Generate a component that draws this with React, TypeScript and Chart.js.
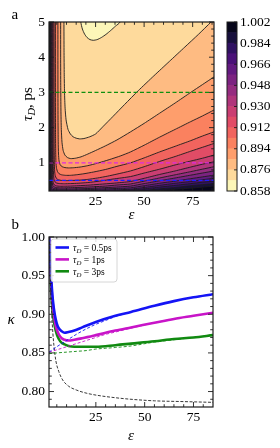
import React, { useEffect, useRef } from 'react';
import { Chart, registerables } from 'chart.js';

Chart.register(...registerables);

const SERIF = "'Liberation Serif', 'DejaVu Serif', 'Times New Roman', serif";

// ================= Panel a : contour map  (x = ε, y = τD in ps) =================
// lightest closed region at the top
const islandContour: [number, number][] = [
  [17.4, 5.6], [17.4, 5.0], [18.2, 4.8], [19.3, 4.66], [20.6, 4.56], [22.1, 4.5], [23.8, 4.48],
  [25.8, 4.5], [28.0, 4.56], [30.4, 4.65], [32.8, 4.76], [35.2, 4.88], [37.6, 5.0], [37.9, 5.6],
];
const contour1: [number, number][] = [
  [8.7, 5.6], [8.7, 5.0], [8.75, 4.2], [8.85, 3.5], [9.0, 3.0], [9.3, 2.55], [9.8, 2.22], [10.8, 1.95],
  [12.0, 1.82], [13.4, 1.74], [15.0, 1.7], [16.8, 1.68], [19, 1.69], [22, 1.74], [25, 1.82], [29, 2.04],
  [34, 2.32], [40, 2.66], [47, 3.05], [55, 3.47], [63, 3.88], [71, 4.29], [78, 4.65], [84.5, 5.0], [90, 5.3],
];
const contour2: [number, number][] = [
  [7.0, 5.6], [7.0, 5.0], [7.0, 4.0], [7.05, 3.2], [7.15, 2.5], [7.35, 1.95], [7.7, 1.58], [8.3, 1.35],
  [9.2, 1.22], [10.5, 1.15], [12.2, 1.12], [14.5, 1.13], [17.5, 1.17], [21, 1.25], [25, 1.35], [30, 1.48],
  [36, 1.65], [43, 1.88], [50, 2.12], [58, 2.41], [66, 2.7], [74, 3.0], [80, 3.22], [86, 3.44], [91, 3.62],
];
const contour3: [number, number][] = [
  [5.6, 5.6], [5.6, 5.0], [5.6, 4.0], [5.62, 3.0], [5.66, 2.2], [5.75, 1.6], [5.9, 1.25], [6.2, 1.05],
  [6.8, 0.94], [7.8, 0.89], [9.2, 0.865], [11, 0.855], [13.5, 0.86], [17, 0.88], [21, 0.92], [26, 0.99],
  [32, 1.09], [38, 1.2], [43, 1.31], [50, 1.5], [58, 1.73], [66, 1.95], [74, 2.17], [80, 2.33], [86, 2.5], [91, 2.64],
];
const contour4: [number, number][] = [
  [4.3, 5.6], [4.3, 5.0], [4.3, 3.5], [4.32, 2.5], [4.36, 1.8], [4.45, 1.3], [4.6, 1.0], [4.9, 0.84],
  [5.4, 0.75], [6.2, 0.69], [7.5, 0.66], [9.5, 0.645], [12, 0.645], [15, 0.66], [19, 0.69], [24, 0.74],
  [30, 0.81], [36, 0.9], [43, 1.0], [50, 1.14], [58, 1.31], [66, 1.47], [74, 1.63], [80, 1.76], [86, 1.88], [91, 1.98],
];
const contour5: [number, number][] = [
  [3.6, 5.6], [3.6, 5.0], [3.6, 3.0], [3.62, 2.0], [3.66, 1.4], [3.75, 1.0], [3.9, 0.77], [4.2, 0.64],
  [4.8, 0.56], [5.8, 0.52], [7.5, 0.5], [10, 0.495], [13, 0.5], [17, 0.51], [21, 0.53], [26, 0.57],
  [31, 0.62], [36, 0.68], [43, 0.77], [50, 0.89], [58, 1.04], [66, 1.18], [74, 1.33], [80, 1.44], [86, 1.55], [91, 1.64],
];
const contour6: [number, number][] = [
  [3.1, 5.6], [3.1, 5.0], [3.1, 3.0], [3.12, 2.0], [3.15, 1.3], [3.22, 0.9], [3.35, 0.66], [3.6, 0.53],
  [4.1, 0.46], [5, 0.425], [6.5, 0.41], [9, 0.405], [12, 0.41], [16, 0.42], [21, 0.44], [27, 0.48],
  [34, 0.54], [43, 0.61], [50, 0.71], [58, 0.82], [66, 0.94], [74, 1.05], [80, 1.13], [86, 1.22], [91, 1.29],
];
const contour7: [number, number][] = [
  [2.7, 5.6], [2.7, 5.0], [2.7, 3.0], [2.72, 1.8], [2.76, 1.1], [2.84, 0.72], [2.98, 0.52], [3.25, 0.42],
  [3.8, 0.37], [4.8, 0.345], [6.5, 0.335], [9, 0.335], [12, 0.34], [16, 0.35], [21, 0.365], [27, 0.39],
  [34, 0.42], [43, 0.47], [50, 0.56], [58, 0.67], [66, 0.77], [74, 0.88], [80, 0.96], [86, 1.03], [91, 1.09],
];
const contour8: [number, number][] = [
  [2.4, 5.6], [2.4, 5.0], [2.4, 3.0], [2.42, 1.6], [2.46, 0.95], [2.54, 0.6], [2.68, 0.44], [2.95, 0.36],
  [3.5, 0.32], [4.5, 0.3], [6.5, 0.29], [9, 0.29], [13, 0.295], [18, 0.305], [24, 0.32], [30, 0.34],
  [36, 0.37], [43, 0.4], [50, 0.48], [58, 0.57], [66, 0.66], [74, 0.75], [80, 0.82], [86, 0.89], [91, 0.95],
];
const contour9: [number, number][] = [
  [2.1, 5.6], [2.1, 5.0], [2.1, 3.0], [2.12, 1.5], [2.16, 0.85], [2.24, 0.52], [2.38, 0.38], [2.65, 0.31],
  [3.2, 0.28], [4.3, 0.265], [6.5, 0.255], [10, 0.255], [15, 0.26], [21, 0.27], [28, 0.29], [35, 0.31],
  [43, 0.34], [50, 0.41], [58, 0.49], [66, 0.57], [74, 0.65], [80, 0.71], [86, 0.77], [91, 0.82],
];
const contour10: [number, number][] = [
  [1.85, 5.6], [1.85, 5.0], [1.85, 3.0], [1.87, 1.4], [1.91, 0.75], [1.99, 0.46], [2.13, 0.33], [2.4, 0.27],
  [3, 0.245], [4.2, 0.235], [6.5, 0.228], [10, 0.226], [15, 0.23], [21, 0.24], [28, 0.255], [35, 0.27],
  [43, 0.29], [50, 0.35], [58, 0.42], [66, 0.48], [74, 0.55], [80, 0.6], [86, 0.65], [91, 0.69],
];
const contour11: [number, number][] = [
  [1.65, 5.6], [1.65, 5.0], [1.65, 3.0], [1.67, 1.3], [1.71, 0.68], [1.79, 0.41], [1.93, 0.29], [2.2, 0.24],
  [2.8, 0.22], [4, 0.21], [6.5, 0.205], [10, 0.204], [15, 0.206], [21, 0.212], [28, 0.222], [35, 0.235],
  [43, 0.25], [50, 0.3], [58, 0.36], [66, 0.42], [74, 0.47], [80, 0.52], [86, 0.56], [91, 0.6],
];
const contour12: [number, number][] = [
  [1.48, 5.6], [1.48, 5.0], [1.48, 3.0], [1.5, 1.2], [1.54, 0.6], [1.62, 0.35], [1.76, 0.24], [2.0, 0.2],
  [2.6, 0.18], [4, 0.17], [8, 0.165], [15, 0.17], [22, 0.18], [30, 0.195], [37, 0.21], [43, 0.225],
  [50, 0.26], [58, 0.31], [66, 0.36], [74, 0.41], [80, 0.45], [86, 0.48], [91, 0.52],
];
const contour13: [number, number][] = [
  [1.33, 5.6], [1.33, 5.0], [1.33, 3.0], [1.35, 1.1], [1.39, 0.55], [1.47, 0.3], [1.6, 0.2], [2, 0.15],
  [4, 0.13], [10, 0.13], [20, 0.14], [30, 0.16], [40, 0.185], [50, 0.22], [58, 0.26], [66, 0.3],
  [74, 0.35], [80, 0.38], [86, 0.41], [91, 0.44],
];
const contour14: [number, number][] = [
  [1.18, 5.6], [1.18, 5.0], [1.18, 3.0], [1.2, 1.0], [1.24, 0.5], [1.32, 0.25], [1.5, 0.15], [2, 0.1],
  [5, 0.09], [15, 0.1], [30, 0.13], [45, 0.17], [55, 0.2], [66, 0.25], [74, 0.28], [80, 0.31], [86, 0.34], [91, 0.37],
];
const contours = [
  contour1, contour2, contour3, contour4, contour5, contour6, contour7,
  contour8, contour9, contour10, contour11, contour12, contour13, contour14,
];
// filled band colours, lightest (lowest value) first
const bandColors = [
  '#fcf6b8', '#feda9c', '#febb82', '#fe9e6c', '#fa815f', '#f1645e', '#e14c66', '#ca3e72',
  '#b0357b', '#952c80', '#7c2381', '#631a80', '#4a1178', '#2f1161', '#170f3c', '#07061b',
];
const colorbarLevels = [
  0.858, 0.867, 0.876, 0.885, 0.894, 0.903, 0.912, 0.921, 0.93,
  0.939, 0.948, 0.957, 0.966, 0.975, 0.984, 0.993, 1.002,
];
const colorbarTicks = [0.858, 0.876, 0.894, 0.912, 0.93, 0.948, 0.966, 0.984, 1.002];
const tauMarkers = [3, 1, 0.5];
const tauMarkerColors = ['#0f8f0f', '#e02ae0', '#1e1eff'];
const mapEpsTicks = [25, 50, 75];
const mapTauTicks = [1, 2, 3, 4, 5];

// ================= Panel b : κ(ε) =================
const epsCurve = [1, 1.5, 2, 2.5, 3, 4, 5, 6, 7.5, 9, 11, 14, 18, 25, 35, 43, 55, 65, 75, 85];
const kappaTau05 = [1.0, 0.975, 0.952, 0.933, 0.918, 0.899, 0.888, 0.882, 0.878, 0.876, 0.877, 0.879, 0.883, 0.89, 0.898, 0.903, 0.911, 0.917, 0.922, 0.926];
const kappaTau1 = [1.0, 0.97, 0.945, 0.925, 0.911, 0.891, 0.88, 0.874, 0.869, 0.867, 0.866, 0.867, 0.869, 0.873, 0.879, 0.883, 0.889, 0.894, 0.898, 0.902];
const kappaTau3 = [1.0, 0.962, 0.934, 0.914, 0.9, 0.884, 0.874, 0.868, 0.863, 0.861, 0.859, 0.858, 0.858, 0.858, 0.86, 0.862, 0.865, 0.868, 0.87, 0.873];
const epsAsym = [1, 5, 10, 15, 20, 25, 30, 35, 43, 55, 65, 75, 85];
const kappaAsym05 = [0.851, 0.858, 0.866, 0.874, 0.881, 0.887, 0.892, 0.897, 0.903, 0.911, 0.917, 0.922, 0.926];
const kappaAsym1 = [0.851, 0.854, 0.858, 0.862, 0.866, 0.87, 0.874, 0.877, 0.882, 0.889, 0.894, 0.898, 0.902];
const kappaAsym3 = [0.849, 0.85, 0.851, 0.852, 0.853, 0.855, 0.856, 0.857, 0.859, 0.864, 0.867, 0.87, 0.873];
const epsLimit = [1.2, 1.5, 1.9, 2.4, 3, 3.5, 4.5, 6, 8, 11, 15, 20, 26, 35, 43, 55, 70, 85];
const kappaLimit = [1.0, 0.965, 0.93, 0.9, 0.875, 0.86, 0.84, 0.826, 0.815, 0.807, 0.802, 0.798, 0.795, 0.792, 0.79, 0.788, 0.787, 0.786];
const legendLabels = ['0.5ps', '1ps', '3ps'];
const curveColors = ['#1414f5', '#c814c8', '#118a11'];
const kappaTicks = [0.8, 0.85, 0.9, 0.95, 1.0];
const epsTicks = [25, 50, 75];

// ---------------- helpers ----------------
const LINE = '#1c1c1c';
const OUT = { xLo: -5, xHi: 95, yLo: -1, yHi: 7 };

function range(a: number, b: number, step: number) {
  const out: number[] = [];
  const n = Math.round((b - a) / step);
  for (let i = 0; i <= n; i++) out.push(+(a + i * step).toFixed(6));
  return out;
}

type Part = { text: string; size: number; italic?: boolean; dy?: number };
function fontOf(p: Part) {
  return `${p.italic ? 'italic ' : ''}${p.size}px ${SERIF}`;
}
function drawRich(ctx: CanvasRenderingContext2D, parts: Part[], x: number, y: number, align: 'left' | 'center') {
  let w = 0;
  for (const p of parts) { ctx.font = fontOf(p); w += ctx.measureText(p.text).width; }
  let cx = align === 'center' ? x - w / 2 : x;
  ctx.textAlign = 'left';
  ctx.textBaseline = 'alphabetic';
  for (const p of parts) {
    ctx.font = fontOf(p);
    ctx.fillText(p.text, cx, y + (p.dy || 0));
    cx += ctx.measureText(p.text).width;
  }
}

function drawFrameTicks(chart: any, xMaj: number[], xMin: number[], yMaj: number[], yMin: number[]) {
  const { ctx, chartArea: a } = chart;
  const xs = chart.scales.x, ys = chart.scales.y;
  const isMaj = (arr: number[], v: number) => arr.some((m) => Math.abs(m - v) < 1e-6);
  ctx.save();
  ctx.strokeStyle = LINE;
  ctx.lineWidth = 0.9;
  ctx.beginPath();
  const vTick = (v: number, len: number) => {
    const px = xs.getPixelForValue(v);
    ctx.moveTo(px, a.bottom); ctx.lineTo(px, a.bottom - len);
    ctx.moveTo(px, a.top); ctx.lineTo(px, a.top + len);
  };
  const hTick = (v: number, len: number) => {
    const py = ys.getPixelForValue(v);
    ctx.moveTo(a.left, py); ctx.lineTo(a.left + len, py);
    ctx.moveTo(a.right, py); ctx.lineTo(a.right - len, py);
  };
  xMaj.forEach((v) => vTick(v, 5));
  xMin.filter((v) => !isMaj(xMaj, v) && v > xs.min && v < xs.max).forEach((v) => vTick(v, 2.8));
  yMaj.forEach((v) => hTick(v, 5));
  yMin.filter((v) => !isMaj(yMaj, v) && v > ys.min && v < ys.max).forEach((v) => hTick(v, 2.8));
  ctx.stroke();
  ctx.lineWidth = 1.2;
  ctx.strokeRect(a.left, a.top, a.right - a.left, a.bottom - a.top);
  ctx.restore();
}

const tickFont = { family: SERIF, size: 13.5 };

// ---------------- panel a ----------------
function makeMap(canvas: HTMLCanvasElement) {
  const datasets: any[] = [];
  datasets.push({
    data: islandContour.map(([x, y]) => ({ x, y })),
    fill: 'shape', backgroundColor: bandColors[0], borderColor: LINE, borderWidth: 0.9,
    pointRadius: 0, tension: 0.2, clip: 0, order: 60,
  });
  contours.forEach((pts, k) => {
    const data = pts.map(([x, y]) => ({ x, y }));
    data.push({ x: OUT.xHi, y: OUT.yHi }, { x: OUT.xHi, y: OUT.yLo }, { x: OUT.xLo, y: OUT.yLo }, { x: OUT.xLo, y: OUT.yHi });
    datasets.push({
      data, fill: 'shape', backgroundColor: bandColors[k + 2], borderColor: LINE, borderWidth: 0.9,
      pointRadius: 0, tension: 0.2, clip: 0, order: 50 - k,
    });
  });
  tauMarkers.forEach((t, i) => {
    datasets.push({
      data: [{ x: 1, y: t }, { x: 86, y: t }],
      borderColor: tauMarkerColors[i], borderWidth: 1.3, borderDash: [4, 2.5],
      pointRadius: 0, fill: false, clip: 0, order: 0,
    });
  });

  const plugin = {
    id: 'panelA',
    beforeDatasetsDraw(chart: any) {
      const { ctx, chartArea: a } = chart;
      ctx.save();
      ctx.fillStyle = bandColors[1];
      ctx.fillRect(a.left, a.top, a.right - a.left, a.bottom - a.top);
      ctx.restore();
    },
    afterDatasetsDraw(chart: any) {
      drawFrameTicks(chart, mapEpsTicks, range(5, 85, 5), mapTauTicks, range(0.2, 5, 0.2));
      const { ctx } = chart;
      ctx.save();
      ctx.fillStyle = '#000';
      drawRich(ctx, [{ text: 'a', size: 15 }], 11.5, 18.5, 'left');
      drawRich(ctx, [{ text: 'ε', size: 15, italic: true }], 131.5, 219, 'center');
      ctx.translate(32, 104);
      ctx.rotate(-Math.PI / 2);
      drawRich(ctx, [
        { text: 'τ', size: 15, italic: true },
        { text: 'D', size: 10.5, italic: true, dy: 3 },
        { text: ', ps', size: 15 },
      ], 0, 0, 'center');
      ctx.restore();
    },
  };

  return new Chart(canvas, {
    type: 'line',
    data: { datasets },
    options: {
      responsive: false, animation: false, events: [], devicePixelRatio: 1,
      layout: { padding: { left: 0, top: 22, right: 66, bottom: 0 } },
      elements: { point: { radius: 0 }, line: { capBezierPoints: false } },
      scales: {
        x: {
          type: 'linear', min: 1, max: 86,
          grid: { display: false, drawTicks: false }, border: { display: false },
          afterBuildTicks: (s: any) => { s.ticks = mapEpsTicks.map((v) => ({ value: v })); },
          afterFit: (s: any) => { s.height = 257; },
          ticks: { font: tickFont, color: '#000', padding: 2, maxRotation: 0, autoSkip: false },
        },
        y: {
          type: 'linear', min: 0.2, max: 5,
          grid: { display: false, drawTicks: false }, border: { display: false },
          afterBuildTicks: (s: any) => { s.ticks = mapTauTicks.map((v) => ({ value: v })); },
          afterFit: (s: any) => { s.width = 49; },
          ticks: { font: tickFont, color: '#000', padding: 4, autoSkip: false, callback: (v: any) => String(v) },
        },
      },
      plugins: { legend: { display: false }, tooltip: { enabled: false } },
    } as any,
    plugins: [plugin],
  });
}

// ---------------- colour bar ----------------
function makeColorbar(canvas: HTMLCanvasElement) {
  const plugin = {
    id: 'cbar',
    afterDatasetsDraw(chart: any) {
      const { ctx, chartArea: a } = chart;
      const ys = chart.scales.y;
      ctx.save();
      ctx.strokeStyle = LINE;
      ctx.lineWidth = 0.9;
      ctx.beginPath();
      colorbarTicks.forEach((v) => {
        const py = ys.getPixelForValue(v);
        ctx.moveTo(a.right, py); ctx.lineTo(a.right - 3, py);
      });
      ctx.stroke();
      ctx.lineWidth = 1;
      ctx.strokeRect(a.left, a.top, a.right - a.left, a.bottom - a.top);
      ctx.restore();
    },
  };
  return new Chart(canvas, {
    type: 'bar',
    data: {
      labels: [''],
      datasets: bandColors.map((c, k) => ({
        data: [[colorbarLevels[k], colorbarLevels[k + 1]]],
        backgroundColor: c, borderWidth: 0, barPercentage: 1, categoryPercentage: 1, grouped: false,
      })),
    },
    options: {
      responsive: false, animation: false, events: [], devicePixelRatio: 1,
      layout: { padding: { left: 227, top: 22, right: 0, bottom: 257 } },
      scales: {
        x: { display: false },
        y: {
          position: 'right', min: 0.858, max: 1.002,
          grid: { display: false, drawTicks: false }, border: { display: false },
          afterBuildTicks: (s: any) => { s.ticks = colorbarTicks.map((v) => ({ value: v })); },
          afterFit: (s: any) => { s.width = 43; },
          ticks: { font: tickFont, color: '#000', padding: 3, autoSkip: false, callback: (v: any) => Number(v).toFixed(3) },
        },
      },
      plugins: { legend: { display: false }, tooltip: { enabled: false } },
    } as any,
    plugins: [plugin],
  });
}

// ---------------- panel b ----------------
function makeLines(canvas: HTMLCanvasElement) {
  const series = (xs: number[], ys: number[], color: string, width: number, dash: number[], order: number) => ({
    data: xs.map((x, i) => ({ x, y: ys[i] })),
    borderColor: color, borderWidth: width, borderDash: dash,
    pointRadius: 0, fill: false, cubicInterpolationMode: 'monotone', clip: 0, order,
  });
  const datasets = [
    series(epsCurve, kappaTau05, curveColors[0], 2.6, [], 2),
    series(epsCurve, kappaTau1, curveColors[1], 2.6, [], 2),
    series(epsCurve, kappaTau3, curveColors[2], 2.6, [], 2),
    series(epsAsym, kappaAsym05, curveColors[0], 0.9, [3, 2], 1),
    series(epsAsym, kappaAsym1, curveColors[1], 0.9, [3, 2], 1),
    series(epsAsym, kappaAsym3, curveColors[2], 0.9, [3, 2], 1),
    series(epsLimit, kappaLimit, '#222222', 0.9, [3, 1.6], 1),
  ];
  const plugin = {
    id: 'panelB',
    afterDatasetsDraw(chart: any) {
      drawFrameTicks(chart, epsTicks, range(5, 85, 5), kappaTicks, range(0.78, 1.0, 0.01));
      const { ctx } = chart;
      ctx.save();
      // legend
      ctx.beginPath();
      ctx.roundRect(51, 239, 66, 43, 3);
      ctx.fillStyle = 'rgba(255,255,255,0.85)';
      ctx.fill();
      ctx.strokeStyle = '#cccccc';
      ctx.lineWidth = 0.8;
      ctx.stroke();
      legendLabels.forEach((lab, i) => {
        const y = 247.5 + i * 11.9;
        ctx.strokeStyle = curveColors[i];
        ctx.lineWidth = 2.6;
        ctx.beginPath();
        ctx.moveTo(55.5, y); ctx.lineTo(69, y);
        ctx.stroke();
        ctx.fillStyle = '#000';
        drawRich(ctx, [
          { text: 'τ', size: 9.5, italic: true },
          { text: 'D', size: 6.8, italic: true, dy: 2 },
          { text: ' = ' + lab, size: 9.5 },
        ], 73, y + 3.2, 'left');
      });
      ctx.fillStyle = '#000';
      drawRich(ctx, [{ text: 'b', size: 15 }], 11.5, 229, 'left');
      drawRich(ctx, [{ text: 'ε', size: 15, italic: true }], 131, 440, 'center');
      drawRich(ctx, [{ text: 'κ', size: 15, italic: true }], 11, 324, 'center');
      ctx.restore();
    },
  };
  return new Chart(canvas, {
    type: 'line',
    data: { datasets },
    options: {
      responsive: false, animation: false, events: [], devicePixelRatio: 1,
      layout: { padding: { left: 0, top: 237, right: 67, bottom: 0 } },
      elements: { point: { radius: 0 }, line: { capBezierPoints: false } },
      scales: {
        x: {
          type: 'linear', min: 1, max: 85,
          grid: { display: false, drawTicks: false }, border: { display: false },
          afterBuildTicks: (s: any) => { s.ticks = epsTicks.map((v) => ({ value: v })); },
          afterFit: (s: any) => { s.height = 41; },
          ticks: { font: tickFont, color: '#000', padding: 2, maxRotation: 0, autoSkip: false },
        },
        y: {
          type: 'linear', min: 0.78, max: 1.0,
          grid: { display: false, drawTicks: false }, border: { display: false },
          afterBuildTicks: (s: any) => { s.ticks = kappaTicks.map((v) => ({ value: v })); },
          afterFit: (s: any) => { s.width = 49; },
          ticks: { font: tickFont, color: '#000', padding: 4, autoSkip: false, callback: (v: any) => Number(v).toFixed(2) },
        },
      },
      plugins: { legend: { display: false }, tooltip: { enabled: false } },
    } as any,
    plugins: [plugin],
  });
}

export default function App() {
  const refA = useRef<HTMLCanvasElement>(null);
  const refBar = useRef<HTMLCanvasElement>(null);
  const refB = useRef<HTMLCanvasElement>(null);
  useEffect(() => {
    const charts = [makeMap(refA.current!), makeColorbar(refBar.current!), makeLines(refB.current!)];
    return () => charts.forEach((c) => c.destroy());
  }, []);
  const cs: React.CSSProperties = { position: 'absolute', left: 0, top: 0, width: 280, height: 448 };
  return (
    <div style={{ position: 'fixed', left: 0, top: 0, width: 280, height: 448, background: '#fff', overflow: 'hidden' }}>
      <canvas ref={refA} width={280} height={448} style={cs} />
      <canvas ref={refBar} width={280} height={448} style={cs} />
      <canvas ref={refB} width={280} height={448} style={cs} />
    </div>
  );
}
